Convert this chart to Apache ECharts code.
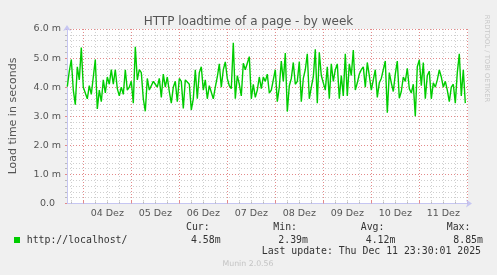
<!DOCTYPE html>
<html><head><meta charset="utf-8">
<script src="https://cdn.jsdelivr.net/npm/echarts@6/dist/echarts.min.js"></script>
<style>html,body{margin:0;padding:0;background:#f0f0f0}#c{width:497px;height:275px}</style>
</head><body><div id="c"></div>
<script>
// hours relative to 04 Dez 00:00
const startHour = -8;
const stepHours = 1;
const loadTimes = [
  4.02, 4.55, 4.95, 3.9, 3.4, 4.7, 4.25, 5.36,
  4.0, 3.95, 3.6, 4.05, 3.75, 4.35, 4.95, 3.25, 3.9, 3.5, 4.25, 3.8,
  4.35, 4.1, 4.6, 4.1, 4.6, 3.95, 3.7, 4.0, 3.75, 4.6, 3.9, 4.0,
  4.2, 3.45, 5.39, 4.25, 4.6, 4.5, 3.6, 3.17, 4.3, 3.9, 3.9, 4.2,
  4.1, 4.0, 4.3, 3.65, 4.45, 4.0, 4.35, 3.85, 3.45, 4.0, 4.2, 3.5,
  4.3, 4.2, 3.27, 4.25, 4.3, 4.1, 3.22, 3.6, 4.6, 3.6, 4.5, 4.7,
  3.9, 4.25, 3.6, 4.05, 4.1, 3.6, 4.0, 4.35, 4.8, 4.0, 4.6, 4.87,
  4.3, 4.05, 3.95, 5.53, 3.6, 4.4, 4.1, 3.7, 4.82, 4.6, 4.55, 5.05,
  3.6, 4.1, 3.65, 3.9, 4.35, 3.95, 4.35, 4.2, 4.45, 3.8, 3.9, 4.25,
  4.6, 3.5, 4.0, 4.9, 4.2, 5.17, 3.16, 4.05, 4.3, 4.85, 4.1, 4.2,
  4.88, 3.5, 4.3, 4.6, 5.15, 3.6, 4.0, 4.35, 5.3, 3.45, 5.2, 4.4,
  4.35, 3.9, 4.7, 3.6, 4.8, 4.2, 4.6, 4.8, 3.6, 4.4, 3.7, 5.15,
  3.7, 4.8, 4.4, 5.28, 3.9, 4.15, 4.45, 4.6, 4.7, 4.0, 4.85, 4.4,
  3.9, 3.85, 4.6, 3.65, 4.15, 4.3, 4.6, 4.9, 3.12, 4.5, 4.15, 3.85,
  4.45, 4.9, 3.62, 3.85, 4.35, 4.2, 4.65, 3.95, 3.8, 4.1, 3.0, 4.7,
  4.94, 4.05, 4.85, 3.6, 4.4, 4.55, 3.6, 4.15, 4.0, 4.25, 4.59, 4.35,
  4.0, 4.2, 3.9, 3.5, 4.0, 4.1, 3.45, 4.5, 5.15, 3.7, 4.6, 3.45
];
const dayLabels = ['04 Dez','05 Dez','06 Dez','07 Dez','08 Dez','09 Dez','10 Dez','11 Dez'];
const dayStarts = [0, 24, 48, 72, 96, 120, 144, 168, 192];
const labelHours = [12, 36, 60, 84, 108, 132, 156, 180];
const minorHours = [-6, 6, 12, 18, 30, 36, 42, 54, 60, 66, 78, 84, 90, 102, 108, 114, 126, 132, 138, 150, 156, 162, 174, 180, 186];
const yTickLabels = ['0.0','1.0 m','2.0 m','3.0 m','4.0 m','5.0 m','6.0 m'];
const xMin = -8.15, xMax = 192.35;
const seriesName = 'http://localhost/';
const statNames = ['Cur:','Min:','Avg:','Max:'];
const statValues = ['4.58m','2.39m','4.12m','8.85m'];
const lastUpdate = 'Last update: Thu Dec 11 23:30:01 2025';

const chart = echarts.init(document.getElementById('c'), null, {renderer:'canvas'});
const red = '#e38a8a', gray = '#cfcfcf', axisCol = '#c6c6f2', txt = '#555';
const mono = '"DejaVu Sans Mono", monospace';
const statX = [186, 273.3, 360.7, 446.7];
const valX = [191, 278.3, 365.7, 453.3];
const graphics = [
  {type:'text', x:13, y:116, rotation:Math.PI/2, style:{text:'Load time in seconds', fill:txt, font:'11px "DejaVu Sans"', align:'center', verticalAlign:'middle'}},
  {type:'text', x:487, y:58.5, rotation:-Math.PI/2, style:{text:'RRDTOOL / TOBI OETIKER', fill:'#c8c8c8', font:'6.8px "DejaVu Sans"', align:'center', verticalAlign:'middle'}},
  {type:'rect', shape:{x:14, y:237, width:6, height:6}, style:{fill:'#00cc00'}},
  {type:'text', x:26.7, y:240, style:{text:seriesName, fill:'#333', font:'9.85px '+mono, align:'left', verticalAlign:'middle'}},
  {type:'text', x:261.7, y:251.7, style:{text:lastUpdate, fill:'#333', font:'9.85px '+mono, align:'left', verticalAlign:'middle'}},
  {type:'text', x:248, y:264, style:{text:'Munin 2.0.56', fill:'#c4c4c4', font:'7.8px "DejaVu Sans"', align:'center', verticalAlign:'middle'}}
];
statNames.forEach((s,i)=>{
  graphics.push({type:'text', x:statX[i], y:227.7, style:{text:s, fill:'#333', font:'9.85px '+mono, align:'left', verticalAlign:'middle'}});
  graphics.push({type:'text', x:valX[i], y:240, style:{text:statValues[i], fill:'#333', font:'9.85px '+mono, align:'left', verticalAlign:'middle'}});
});

const option = {
  animation:false,
  backgroundColor:'#f0f0f0',
  textStyle:{fontFamily:'DejaVu Sans'},
  title:{text:'HTTP loadtime of a page - by week', left:'center', top:11,
    textStyle:{fontSize:12, fontWeight:'normal', color:txt, fontFamily:'DejaVu Sans'}},
  grid:{left:67, top:29, width:401, height:174.5, show:true, backgroundColor:'#ffffff', borderWidth:0},
  xAxis:[{
    type:'value', min:xMin, max:xMax,
    axisLine:{show:true, onZero:false, lineStyle:{color:axisCol, width:1}, symbol:['none','arrow'], symbolSize:[6,6], symbolOffset:[0,4]},
    axisTick:{show:true, customValues:dayStarts, inside:true, length:3, lineStyle:{color:red}},
    axisLabel:{show:true, customValues:labelHours, formatter:v=>dayLabels[Math.round((v-12)/24)],
      fontSize:9.5, color:txt, margin:5, fontFamily:'DejaVu Sans'},
    splitLine:{show:true, lineStyle:{color:red, type:[1,2], width:1}}
  },{
    type:'value', min:xMin, max:xMax, position:'bottom',
    axisLine:{show:false, onZero:false}, axisLabel:{show:false},
    axisTick:{show:true, customValues:minorHours, inside:true, length:2, lineStyle:{color:'#bbb'}},
    splitLine:{show:true, lineStyle:{color:gray, type:[1,2], width:1}}
  }],
  yAxis:{
    type:'value', min:0, max:6, interval:1,
    axisLine:{show:true, onZero:false, lineStyle:{color:axisCol, width:1}, symbol:['none','arrow'], symbolSize:[6,6], symbolOffset:[0,4]},
    axisTick:{show:true, length:2, lineStyle:{color:red}},
    minorTick:{show:true, splitNumber:5, length:2, lineStyle:{color:'#bbb'}},
    splitLine:{show:true, lineStyle:{color:red, type:[1,2], width:1}},
    minorSplitLine:{show:true, lineStyle:{color:gray, type:[1,2], width:1}},
    axisLabel:{fontSize:9.5, color:txt, margin:6, fontFamily:'DejaVu Sans',
      formatter:v=>{const s=yTickLabels[Math.round(v)]; return v===0 ? '{z|'+s+'}' : s;},
      rich:{z:{padding:[0,6,0,0], fontSize:9.5, color:txt, fontFamily:'DejaVu Sans'}}}
  },
  graphic:graphics,
  series:[{
    type:'line', name:seriesName, xAxisIndex:0, yAxisIndex:0,
    data:loadTimes.map((v,i)=>[startHour + i*stepHours, v]),
    showSymbol:false, symbol:'none', silent:true,
    lineStyle:{color:'#00cc00', width:1.4}, itemStyle:{color:'#00cc00'}
  }]
};
chart.setOption(option);
</script></body></html>
